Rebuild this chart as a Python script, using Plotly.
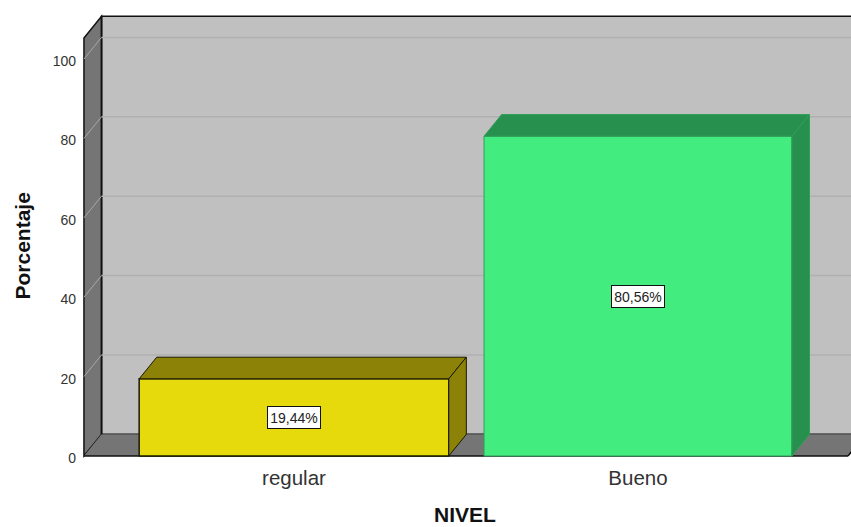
import plotly.graph_objects as go

categories = ["regular", "Bueno"]
percent = [19.44, 80.56]
percent_labels = ["19,44%", "80,56%"]
y_ticks = [0, 20, 40, 60, 80, 100]

FACE = ["#E6DA0D", "#42EC7F"]
SIDE = ["#8C8208", "#27904E"]
EDGE = ["#1a1a00", "#2F9E58"]
EDGE_W = [1.5, 1]
WALL = "#C0C0C0"
DARK = "#757575"
LINE = "#111111"

DX, DY = 0.051, 5.45       # depth of the 3-D box in axis units
HALF = [0.45, 0.4475]      # half of each bar's width
X0, X1 = -0.6105, 1.6105   # front edge of the floor
TOP = 105.3                # front top of the box


def poly(pts, fill, line=None, width=1):
    d = "M " + " L ".join(f"{x},{y}" for x, y in pts) + " Z"
    return dict(type="path", path=d, fillcolor=fill, layer="below",
                xref="x", yref="y",
                line=dict(color=line or fill, width=width))


shapes = [
    poly([(X0 + DX, DY), (X1 + 2, DY), (X1 + 2, TOP + DY), (X0 + DX, TOP + DY)], WALL, LINE, 1.5),
    poly([(X0, 0), (X0 + DX, DY), (X0 + DX, TOP + DY), (X0, TOP)], DARK, LINE, 1.5),
    poly([(X0, 0), (X1, 0), (X1 + DX, DY), (X0 + DX, DY)], DARK, DARK, 0),
    dict(type="line", layer="below", xref="x", yref="y", x0=X0, x1=X1, y0=0, y1=0,
         line=dict(color=LINE, width=1.5)),
    dict(type="line", layer="below", xref="x", yref="y", x0=X1, x1=X1 + DX, y0=0, y1=DY,
         line=dict(color=LINE, width=1.5)),
    dict(type="line", layer="below", xref="x", yref="y", x0=X0 + DX, x1=X0 + DX, y0=DY, y1=TOP + DY,
         line=dict(color=LINE, width=1.5)),
]
for t in y_ticks[1:]:
    shapes.append(dict(type="line", layer="below", xref="x", yref="y",
                       x0=X0 + DX, x1=X1 + 2, y0=t + DY, y1=t + DY,
                       line=dict(color="#B0B0B0", width=1.5)))
    shapes.append(dict(type="line", layer="below", xref="x", yref="y",
                       x0=X0, x1=X0 + DX, y0=t, y1=t + DY,
                       line=dict(color="#A8A8A8", width=1)))

fig = go.Figure()
xs = list(range(len(categories)))
fig.add_trace(go.Bar(x=xs, y=percent, width=[h * 2 for h in HALF],
                     marker=dict(color=FACE, line=dict(color=EDGE, width=EDGE_W)),
                     hoverinfo="skip", showlegend=False))

for i, v in zip(xs, percent):
    l, r = i - HALF[i], i + HALF[i]
    fig.add_trace(go.Scatter(
        x=[l, r, r + DX, l + DX, l], y=[v, v, v + DY, v + DY, v],
        mode="lines", fill="toself", fillcolor=SIDE[i],
        line=dict(color=EDGE[i], width=1), hoverinfo="skip", showlegend=False))
    fig.add_trace(go.Scatter(
        x=[r, r + DX, r + DX, r, r], y=[0, DY, v + DY, v, 0],
        mode="lines", fill="toself", fillcolor=SIDE[i],
        line=dict(color=EDGE[i], width=1), hoverinfo="skip", showlegend=False))

annotations = [
    dict(x=i, y=v / 2, xref="x", yref="y", text=lab, showarrow=False,
         width=50, height=19,
         font=dict(family="Liberation Sans", size=14, color="#222222"),
         bgcolor="white", bordercolor="#111111", borderwidth=1, borderpad=1)
    for i, v, lab in zip(xs, percent, percent_labels)
]


def paper_x(px):
    return (px - 80) / 771


def paper_y(py):
    return 1 - (py - 14) / 446


annotations += [
    dict(x=paper_x(464.5), y=paper_y(514.5), xref="paper", yref="paper", yanchor="middle",
         text="<b>NIVEL</b>", showarrow=False, borderpad=0,
         font=dict(family="Liberation Sans", size=21, color="#111111")),
    dict(x=paper_x(22), y=paper_y(246.5), xref="paper", yref="paper", xanchor="center", yanchor="middle",
         text="<b>Porcentaje</b>", textangle=-90, showarrow=False,
         font=dict(family="Liberation Sans", size=21, color="#111111")),
]

fig.update_layout(
    width=851, height=527, autosize=False,
    margin=dict(l=80, r=0, t=14, b=67, pad=0),
    paper_bgcolor="white", plot_bgcolor="white",
    shapes=shapes, annotations=annotations,
    font=dict(family="Liberation Sans"),
    xaxis=dict(range=[-0.622, 1.6192], tickvals=xs, ticktext=categories,
               showgrid=False, zeroline=False, showline=False, ticks="",
               tickfont=dict(size=20.5, color="#333333"), ticklabelstandoff=3),
    yaxis=dict(range=[-1.0076, 111.34], tickvals=y_ticks,
               showgrid=False, zeroline=False, showline=False, ticks="",
               tickfont=dict(size=14, color="#333333"), ticklabelstandoff=3,
               ticklabelshift=2),
)

fig.write_html("out.html", config=dict(displayModeBar=False),
               post_script="document.body.style.margin='0';document.body.style.overflow='hidden';")
